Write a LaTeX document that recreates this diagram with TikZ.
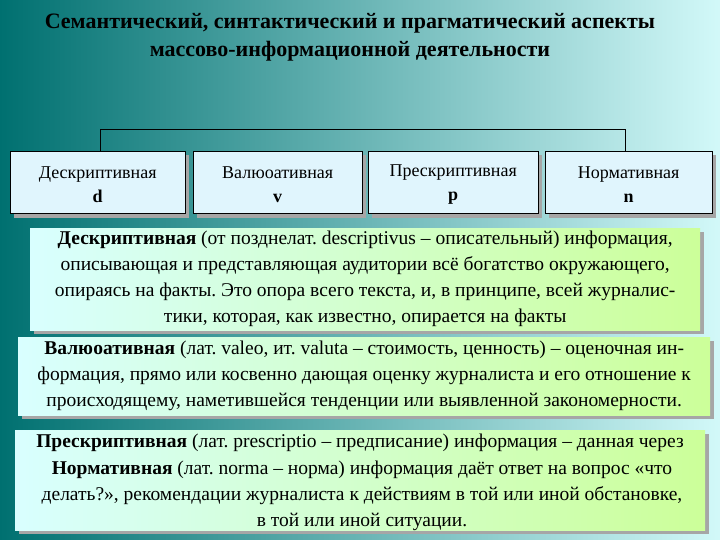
\documentclass[tikz,border=0pt]{standalone}
\usepackage{fontspec}
\setmainfont{Liberation Serif}
\frenchspacing
\begin{document}
\begin{tikzpicture}[x=1pt,y=-1pt,
  top/.style={draw=black,fill=cyan!12!white,minimum width=#1,minimum height=62pt,anchor=north west,align=center,font=\fontsize{18}{24}\selectfont,inner sep=0pt},
  info/.style={draw=none,left color=cyan!15!white,right color=yellow!50!green!40!white,anchor=north west,inner sep=0pt},
  para/.style={align=center,font=\fontsize{19.5}{26}\selectfont}]
\useasboundingbox (0,0) rectangle (720,540);
\shade[left color=teal!90!cyan!80!black, right color=gray!25!cyan!20!white] (0,0) rectangle (720,540);
\node[font=\bfseries\fontsize{22}{28}\selectfont,align=center] (title) at (350,37) {Семантический, синтактический и прагматический аспекты\\массово-информационной деятельности};
\fill[black!35] (14,155) rectangle (189,218);
\node[top=175pt] (d) at (10,151) {\strut Дескриптивная\\\textbf{d}};
\fill[black!35] (197,155) rectangle (366,218);
\node[top=169pt] (v) at (193,151) {\strut Валюоативная\\\textbf{v}};
\fill[black!35] (372,155) rectangle (542,218);
\node[top=170pt] (p) at (368,151) {\strut Прескриптивная\\\textbf{p}};
\fill[black!35] (549,155) rectangle (716,218);
\node[top=167pt] (n) at (545,151) {\strut Нормативная\\\textbf{n}};
\coordinate (c1) at (100,130); \coordinate (c2) at (625,130);
\draw[line width=1pt] (d.north -| c1) -- (c1) -- (c2) -- (n.north -| c2);
\fill[black!35] (34,232) rectangle (704,334);
\node[info,minimum width=670pt,minimum height=102pt] (A) at (30,228) {};
\node[para] at (A.center) {\textbf{Дескриптивная} (от позднелат. descriptivus – описательный) информация,\\описывающая и представляющая аудитории всё богатство окружающего,\\опираясь на факты. Это опора всего текста, и, в принципе, всей журналис-\\тики, которая, как известно, опирается на факты};
\fill[black!35] (22,341) rectangle (714,419);
\node[info,minimum width=692pt,minimum height=78pt] (B) at (18,337) {};
\node[para] at (B.center) {\textbf{Валюоативная} (лат. valeo, ит. valuta – стоимость, ценность) – оценочная ин-\\формация, прямо или косвенно дающая оценку журналиста и его отношение к\\происходящему, наметившейся тенденции или выявленной закономерности.};
\fill[black!35] (19,434) rectangle (709,534);
\node[info,minimum width=690pt,minimum height=100pt] (C) at (15,430) {};
\node[para] (pr) at (360,443) {\textbf{Прескриптивная} (лат. prescriptio – предписание) информация – данная через};
\node[para] (nr) at (362,496) {\textbf{Нормативная} (лат. norma – норма) информация даёт ответ на вопрос «что\\делать?», рекомендации журналиста к действиям в той или иной обстановке,\\в той или иной ситуации.};
\end{tikzpicture}
\end{document}
